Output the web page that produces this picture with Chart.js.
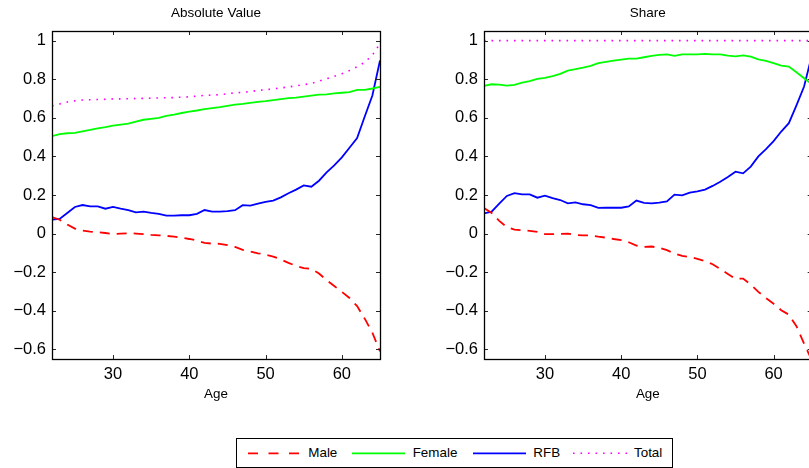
<!DOCTYPE html>
<html><head><meta charset="utf-8">
<script src="https://cdn.jsdelivr.net/npm/chart.js@4/dist/chart.umd.min.js"></script>
<style>
html,body{margin:0;padding:0;background:#fff;overflow:hidden;width:809px;height:468px;}
#wrap{position:relative;width:809px;height:468px;overflow:hidden;font-family:"Liberation Sans",Arial,sans-serif;}
#c1{position:absolute;left:0;top:0;}
#c2{position:absolute;left:400px;top:0;}
#legend{position:absolute;left:236px;top:438px;width:437px;height:30px;border:1px solid #000;box-sizing:border-box;background:#fff;}
#legend canvas{position:absolute;top:11px;}
#legend span{position:absolute;top:6px;line-height:16px;font-size:13.4px;color:#000;white-space:nowrap;}
</style>
</head><body>
<div id="wrap">
<canvas id="c1" width="400" height="420" style="width:400px;height:420px"></canvas>
<canvas id="c2" width="430" height="420" style="width:430px;height:420px"></canvas>
<div id="legend"></div>
</div>
<script>
const ages = [22,23,24,25,26,27,28,29,30,31,32,33,34,35,36,37,38,39,40,41,42,43,44,45,46,47,48,49,50,51,52,53,54,55,56,57,58,59,60,61,62,63,64,65];
const xTicks = [30,40,50,60];
const yTicks = [-0.6,-0.4,-0.2,0,0.2,0.4,0.6,0.8,1];
const seriesNames = ['Male','Female','RFB','Total'];
const panelTitles = ['Absolute Value','Share'];
const xTitle = 'Age';

const absMale = [0.086,0.072,0.047,0.026,0.016,0.010,0.007,0.003,-0.002,0.000,0.002,0.000,-0.003,-0.007,-0.009,-0.012,-0.016,-0.021,-0.028,-0.036,-0.048,-0.052,-0.053,-0.060,-0.069,-0.084,-0.093,-0.102,-0.109,-0.119,-0.134,-0.152,-0.167,-0.179,-0.183,-0.207,-0.241,-0.272,-0.302,-0.334,-0.376,-0.441,-0.514,-0.610];
const absFemale = [0.505,0.515,0.520,0.522,0.530,0.537,0.545,0.552,0.560,0.565,0.570,0.580,0.590,0.595,0.600,0.610,0.617,0.625,0.632,0.638,0.645,0.650,0.655,0.662,0.668,0.672,0.678,0.683,0.687,0.692,0.697,0.702,0.705,0.710,0.715,0.720,0.722,0.727,0.730,0.733,0.745,0.745,0.752,0.760];
const absRFB = [0.072,0.076,0.107,0.138,0.148,0.141,0.141,0.129,0.138,0.129,0.121,0.110,0.114,0.107,0.102,0.093,0.093,0.095,0.095,0.102,0.122,0.114,0.114,0.116,0.121,0.147,0.145,0.155,0.164,0.171,0.188,0.209,0.228,0.250,0.243,0.274,0.317,0.353,0.395,0.445,0.495,0.607,0.716,0.897];
const absTotal = [0.662,0.672,0.682,0.688,0.692,0.694,0.695,0.696,0.698,0.698,0.699,0.700,0.701,0.702,0.703,0.704,0.705,0.707,0.709,0.713,0.716,0.718,0.720,0.725,0.729,0.732,0.736,0.742,0.746,0.750,0.755,0.760,0.766,0.772,0.778,0.790,0.802,0.815,0.828,0.845,0.865,0.888,0.925,0.985];

const shareMale = [0.133,0.107,0.066,0.034,0.021,0.017,0.014,0.009,-0.003,-0.003,-0.002,0.000,-0.007,-0.009,-0.010,-0.016,-0.021,-0.028,-0.034,-0.045,-0.062,-0.069,-0.067,-0.074,-0.086,-0.103,-0.116,-0.121,-0.131,-0.143,-0.159,-0.183,-0.209,-0.234,-0.233,-0.264,-0.302,-0.334,-0.364,-0.397,-0.420,-0.480,-0.570,-0.655];
const shareFemale = [0.766,0.774,0.772,0.767,0.771,0.783,0.790,0.802,0.807,0.816,0.828,0.845,0.852,0.860,0.869,0.883,0.890,0.897,0.902,0.907,0.907,0.914,0.921,0.926,0.929,0.921,0.929,0.929,0.929,0.931,0.929,0.929,0.922,0.919,0.924,0.917,0.903,0.895,0.884,0.871,0.866,0.836,0.805,0.775];
const shareRFB = [0.105,0.114,0.155,0.195,0.210,0.203,0.203,0.186,0.197,0.184,0.174,0.157,0.162,0.152,0.147,0.133,0.134,0.134,0.134,0.141,0.171,0.159,0.157,0.160,0.167,0.202,0.198,0.212,0.219,0.228,0.247,0.269,0.293,0.321,0.312,0.347,0.400,0.438,0.479,0.529,0.572,0.665,0.762,0.920];
const shareTotal = [1,1,1,1,1,1,1,1,1,1,1,1,1,1,1,1,1,1,1,1,1,1,1,1,1,1,1,1,1,1,1,1,1,1,1,1,1,1,1,1,1,1,1,1];

const FONT = '"Liberation Sans", Arial, sans-serif';
const styles = [
  {color:'#ff0000', dash:[10,7], width:1.8},
  {color:'#00ff00', dash:[], width:1.8},
  {color:'#0000ff', dash:[], width:1.8},
  {color:'#ff00ff', dash:[1.6,5.9], width:1.6}
];

const boxPlugin = {
  id:'mbox',
  afterDraw(chart){
    const {ctx, chartArea:a, scales:{x,y}} = chart;
    const TL = 4;
    ctx.save();
    ctx.strokeStyle = '#262626';
    ctx.lineWidth = 1;
    ctx.beginPath();
    x.ticks.forEach(t=>{
      const p = Math.round(x.getPixelForValue(t.value))+0.5;
      ctx.moveTo(p,a.bottom); ctx.lineTo(p,a.bottom-TL);
      ctx.moveTo(p,a.top); ctx.lineTo(p,a.top+TL);
    });
    y.ticks.forEach(t=>{
      const p = Math.round(y.getPixelForValue(t.value))+0.5;
      ctx.moveTo(a.left,p); ctx.lineTo(a.left+TL,p);
      ctx.moveTo(a.right,p); ctx.lineTo(a.right-TL,p);
    });
    ctx.stroke();
    ctx.strokeStyle = '#000';
    ctx.lineWidth = 1.3;
    ctx.strokeRect(Math.round(a.left)+0.5, Math.round(a.top)+0.5, Math.round(a.right)-Math.round(a.left), Math.round(a.bottom)-Math.round(a.top));
    ctx.restore();
  }
};

function makeChart(id, title, seriesList, yAxisWidth, rightPad){
  const datasets = seriesList.map((vals,i)=>({
    label: seriesNames[i],
    data: ages.map((a,k)=>({x:a, y:vals[k]})),
    borderColor: styles[i].color,
    borderDash: styles[i].dash,
    borderWidth: styles[i].width,
    pointRadius: 0,
    tension: 0,
    fill: false
  }));
  return new Chart(document.getElementById(id), {
    type:'line',
    data:{datasets},
    plugins:[boxPlugin],
    options:{
      responsive:false,
      animation:false,
      events:[],
      layout:{padding:{left:0,top:0,right:rightPad,bottom:0}, autoPadding:false},
      plugins:{
        legend:{display:false},
        tooltip:{enabled:false},
        title:{display:true, text:title, fullSize:false, color:'#000',
          font:{family:FONT, size:13.5, weight:'normal'},
          padding:{top:5.2,bottom:9.6}}
      },
      scales:{
        x:{type:'linear', min:22, max:65,
          afterBuildTicks:s=>{s.ticks = xTicks.map(v=>({value:v}));},
          afterFit:s=>{s.height = 61;},
          grid:{display:false, drawTicks:false},
          border:{display:false},
          ticks:{color:'#000', padding:6, maxRotation:0, font:{family:FONT,size:16.5}},
          title:{display:true, text:xTitle, color:'#000', font:{family:FONT,size:13.4}, padding:{top:0,bottom:18}}
        },
        y:{type:'linear', min:-0.65, max:1.05,
          afterBuildTicks:s=>{s.ticks = yTicks.map(v=>({value:v}));},
          afterFit:s=>{s.width = yAxisWidth;},
          grid:{display:false, drawTicks:false},
          border:{display:false},
          ticks:{color:'#000', padding:6, font:{family:FONT,size:16.5},
            callback:v=>String(Math.round(v*10)/10).replace('-','\u2212')}
        }
      }
    }
  });
}

makeChart('c1', panelTitles[0], [absMale,absFemale,absRFB,absTotal], 52, 20);
makeChart('c2', panelTitles[1], [shareMale,shareFemale,shareRFB,shareTotal], 84, 18.3);

// legend
const leg = document.getElementById('legend');
const legItems = [
  {line:11, w:52, text:71.3},
  {line:115.3, w:53, text:175.7},
  {line:235.7, w:53, text:296.3},
  {line:335.7, w:57, text:397}
];
legItems.forEach((it,i)=>{
  const c = document.createElement('canvas');
  c.width = Math.ceil(it.w); c.height = 6;
  c.style.left = it.line+'px';
  leg.appendChild(c);
  const g = c.getContext('2d');
  g.strokeStyle = styles[i].color;
  g.lineWidth = styles[i].width;
  g.setLineDash(i===0?[10,10.5]:styles[i].dash);
  g.beginPath(); g.moveTo(0,3.3); g.lineTo(it.w,3.3); g.stroke();
  const s = document.createElement('span');
  s.textContent = seriesNames[i];
  s.style.left = it.text+'px';
  leg.appendChild(s);
});
</script>
</body></html>
